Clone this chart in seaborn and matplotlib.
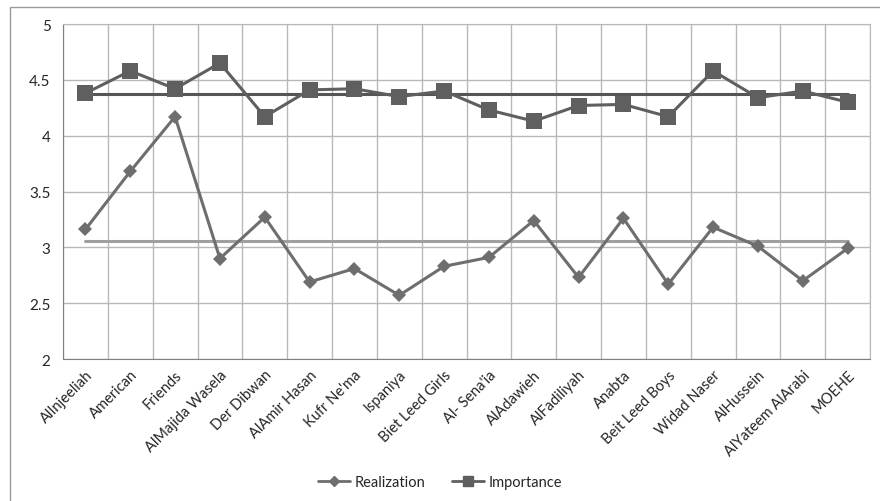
import numpy as np
import pandas as pd
import matplotlib
matplotlib.use("Agg")
import matplotlib.pyplot as plt
from matplotlib.patches import Rectangle
from matplotlib.ticker import FixedLocator, FormatStrFormatter
import seaborn as sns

schools = ["AlInjeeliah", "American", "Friends", "AlMajida Wasela", "Der Dibwan",
           "AlAmir Hasan", "Kufr Ne'ma", "Ispaniya", "Biet Leed Girls", "Al- Sena'ia",
           "AlAdawieh", "AlFadiliyah", "Anabta", "Beit Leed Boys", "Widad Naser",
           "AlHussein", "AlYateem AlArabi", "MOEHE"]
realization = [3.16, 3.68, 4.17, 2.90, 3.27, 2.69, 2.81, 2.57, 2.83, 2.91,
               3.24, 2.73, 3.26, 2.67, 3.18, 3.01, 2.70, 2.99]
importance = [4.38, 4.58, 4.42, 4.65, 4.17, 4.41, 4.42, 4.35, 4.40, 4.23,
              4.13, 4.27, 4.28, 4.17, 4.58, 4.34, 4.40, 4.30]
realization_avg = 3.06
importance_avg = 4.37

df = pd.DataFrame({"school": schools * 2,
                   "value": realization + importance,
                   "series": ["Realization"] * len(schools) + ["Importance"] * len(schools)})

sns.set_style("white")
plt.rcParams["font.family"] = ["Lato", "DejaVu Sans"]

fig = plt.figure(figsize=(8.8, 5.02), dpi=100)
ax = fig.add_axes([63 / 880, 1 - 360 / 502, (870 - 63) / 880, (360 - 25) / 502])

# outer chart border
fig.patches.append(Rectangle((10 / 880, -0.1), 1.0, 1.1 - 8 / 502, transform=fig.transFigure,
                             fill=False, edgecolor="#9a9a9a", linewidth=1.0))

sns.lineplot(data=df, x="school", y="value", hue="series", style="series",
             markers={"Realization": "D", "Importance": "s"}, dashes=False,
             palette={"Realization": "#6e6e6e", "Importance": "#5f5f5f"},
             linewidth=2.2, markersize=8, markeredgewidth=0, sort=False, ax=ax,
             legend=False)
for line, ms in zip(ax.lines, [7, 11]):
    line.set_markersize(ms)

n = len(schools)
ax.plot([0, n - 1], [importance_avg] * 2, color="#555555", linewidth=2.2, zorder=1)
ax.plot([0, n - 1], [realization_avg] * 2, color="#a0a0a0", linewidth=2.2, zorder=1)

ax.set_xlim(-0.5, n - 0.5)
ax.set_ylim(2, 5)
ax.yaxis.set_major_locator(FixedLocator(np.arange(2, 5.01, 0.5)))
ax.yaxis.set_major_formatter(FormatStrFormatter("%g"))
ax.set_xticks(range(n))
ax.set_xticklabels(schools, rotation=45, ha="right", rotation_mode="anchor", fontsize=10.5)
ax.set_xticks(np.arange(-0.5, n, 1.0), minor=True)
ax.tick_params(axis="x", which="major", length=0, pad=6)
ax.tick_params(axis="x", which="minor", length=5, color="#808080", width=1)
ax.tick_params(axis="y", length=5, color="#808080", width=1, labelsize=11, pad=4)
ax.set_xlabel("")
ax.set_ylabel("")

ax.grid(True, axis="y", which="major", color="#b8b8b8", linewidth=1)
ax.grid(True, axis="x", which="minor", color="#b8b8b8", linewidth=1)
ax.set_axisbelow(True)
for side in ["top", "right"]:
    ax.spines[side].set_color("#b8b8b8")
for side in ["left", "bottom"]:
    ax.spines[side].set_color("#808080")

handles = [plt.Line2D([], [], color="#6e6e6e", marker="D", markersize=5, linewidth=2),
           plt.Line2D([], [], color="#5f5f5f", marker="s", markersize=7, linewidth=2)]
fig.legend(handles, ["Realization", "Importance"], loc="center", bbox_to_anchor=(0.5, 1 - 483 / 502),
           ncol=2, frameon=False, fontsize=10.5, handlelength=2.2, columnspacing=1.8, handletextpad=0.3)

fig.savefig("out.png", dpi=100)
